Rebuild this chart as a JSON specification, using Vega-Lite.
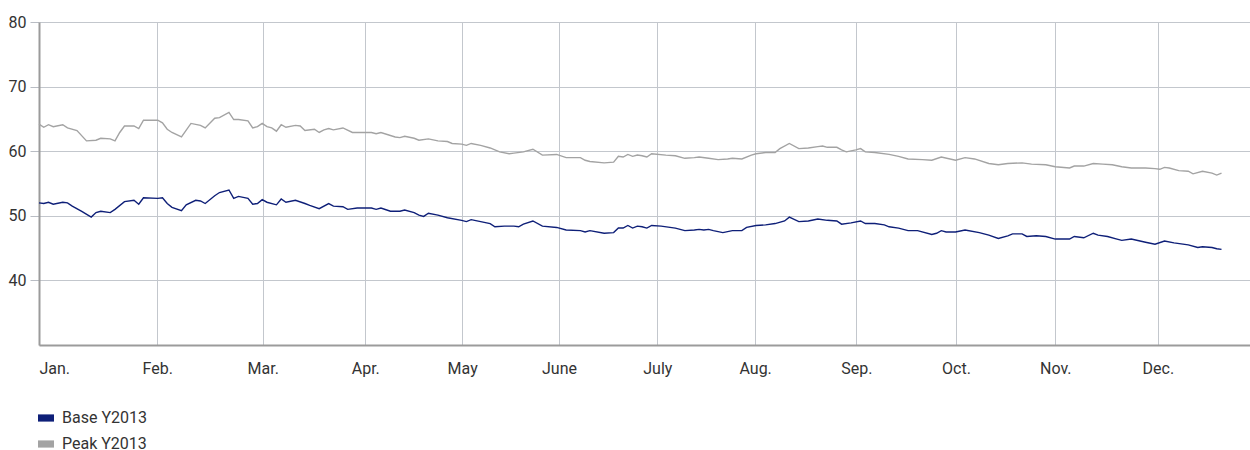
{
  "$schema": "https://vega.github.io/schema/vega-lite/v6.json",
  "width": 1211,
  "height": 323,
  "autosize": {"type": "none"},
  "padding": {"left": 39, "top": 22, "right": 0, "bottom": 105},
  "config": {
    "view": {"stroke": null},
    "font": "Roboto",
    "axis": {"labelFont": "Roboto", "labelFontSize": 16, "labelColor": "#333333", "gridColor": "#c3c7cd", "gridWidth": 1, "domainColor": "#9b9b9b", "domainWidth": 2, "title": null},
    "legend": {"labelFont": "Roboto", "labelFontSize": 16, "labelColor": "#333333"}
  },
  "data": {"values": [
    {"d":0,"s":"Peak Y2013","v":64.2},{"d":1,"s":"Peak Y2013","v":63.7},{"d":2,"s":"Peak Y2013","v":64.1},{"d":3,"s":"Peak Y2013","v":63.8},{"d":5,"s":"Peak Y2013","v":64.1},{"d":6,"s":"Peak Y2013","v":63.6},{"d":8,"s":"Peak Y2013","v":63.2},{"d":10,"s":"Peak Y2013","v":61.6},{"d":12,"s":"Peak Y2013","v":61.7},{"d":13,"s":"Peak Y2013","v":62.0},{"d":15,"s":"Peak Y2013","v":61.9},{"d":16,"s":"Peak Y2013","v":61.6},{"d":17,"s":"Peak Y2013","v":62.9},{"d":18,"s":"Peak Y2013","v":63.9},{"d":20,"s":"Peak Y2013","v":63.9},{"d":21,"s":"Peak Y2013","v":63.5},{"d":22,"s":"Peak Y2013","v":64.8},{"d":25,"s":"Peak Y2013","v":64.8},{"d":26,"s":"Peak Y2013","v":64.4},{"d":27,"s":"Peak Y2013","v":63.4},{"d":28,"s":"Peak Y2013","v":62.9},{"d":30,"s":"Peak Y2013","v":62.2},{"d":32,"s":"Peak Y2013","v":64.3},{"d":34,"s":"Peak Y2013","v":64.0},{"d":35,"s":"Peak Y2013","v":63.6},{"d":37,"s":"Peak Y2013","v":65.1},{"d":38,"s":"Peak Y2013","v":65.2},{"d":40,"s":"Peak Y2013","v":66.0},{"d":41,"s":"Peak Y2013","v":64.9},{"d":42,"s":"Peak Y2013","v":64.9},{"d":44,"s":"Peak Y2013","v":64.7},{"d":45,"s":"Peak Y2013","v":63.6},{"d":46,"s":"Peak Y2013","v":63.8},{"d":47,"s":"Peak Y2013","v":64.3},{"d":48,"s":"Peak Y2013","v":63.8},{"d":49,"s":"Peak Y2013","v":63.6},{"d":50,"s":"Peak Y2013","v":63.1},{"d":51,"s":"Peak Y2013","v":64.1},{"d":52,"s":"Peak Y2013","v":63.7},{"d":54,"s":"Peak Y2013","v":64.0},{"d":55,"s":"Peak Y2013","v":63.9},{"d":56,"s":"Peak Y2013","v":63.2},{"d":58,"s":"Peak Y2013","v":63.4},{"d":59,"s":"Peak Y2013","v":62.9},{"d":60,"s":"Peak Y2013","v":63.3},{"d":61,"s":"Peak Y2013","v":63.5},{"d":62,"s":"Peak Y2013","v":63.3},{"d":64,"s":"Peak Y2013","v":63.6},{"d":66,"s":"Peak Y2013","v":62.9},{"d":67,"s":"Peak Y2013","v":62.9},{"d":70,"s":"Peak Y2013","v":62.9},{"d":71,"s":"Peak Y2013","v":62.7},{"d":72,"s":"Peak Y2013","v":62.9},{"d":75,"s":"Peak Y2013","v":62.2},{"d":76,"s":"Peak Y2013","v":62.1},{"d":77,"s":"Peak Y2013","v":62.3},{"d":79,"s":"Peak Y2013","v":62.0},{"d":80,"s":"Peak Y2013","v":61.7},
    {"d":82,"s":"Peak Y2013","v":61.9},{"d":84,"s":"Peak Y2013","v":61.6},{"d":86,"s":"Peak Y2013","v":61.5},{"d":87,"s":"Peak Y2013","v":61.2},{"d":89,"s":"Peak Y2013","v":61.1},{"d":90,"s":"Peak Y2013","v":60.9},{"d":91,"s":"Peak Y2013","v":61.2},{"d":93,"s":"Peak Y2013","v":60.9},{"d":95,"s":"Peak Y2013","v":60.5},{"d":97,"s":"Peak Y2013","v":59.9},{"d":99,"s":"Peak Y2013","v":59.6},{"d":100,"s":"Peak Y2013","v":59.7},{"d":102,"s":"Peak Y2013","v":59.9},{"d":104,"s":"Peak Y2013","v":60.3},{"d":106,"s":"Peak Y2013","v":59.4},{"d":109,"s":"Peak Y2013","v":59.5},{"d":111,"s":"Peak Y2013","v":59.0},{"d":114,"s":"Peak Y2013","v":59.0},{"d":115,"s":"Peak Y2013","v":58.6},{"d":116,"s":"Peak Y2013","v":58.4},{"d":119,"s":"Peak Y2013","v":58.2},{"d":121,"s":"Peak Y2013","v":58.3},{"d":122,"s":"Peak Y2013","v":59.2},{"d":123,"s":"Peak Y2013","v":59.1},{"d":124,"s":"Peak Y2013","v":59.5},{"d":125,"s":"Peak Y2013","v":59.2},{"d":126,"s":"Peak Y2013","v":59.4},{"d":127,"s":"Peak Y2013","v":59.3},{"d":128,"s":"Peak Y2013","v":59.1},{"d":129,"s":"Peak Y2013","v":59.6},{"d":132,"s":"Peak Y2013","v":59.4},{"d":134,"s":"Peak Y2013","v":59.3},{"d":136,"s":"Peak Y2013","v":58.9},{"d":138,"s":"Peak Y2013","v":59.0},{"d":139,"s":"Peak Y2013","v":59.1},{"d":141,"s":"Peak Y2013","v":58.9},{"d":143,"s":"Peak Y2013","v":58.7},{"d":145,"s":"Peak Y2013","v":58.8},{"d":146,"s":"Peak Y2013","v":58.9},{"d":148,"s":"Peak Y2013","v":58.8},{"d":150,"s":"Peak Y2013","v":59.4},{"d":151,"s":"Peak Y2013","v":59.6},{"d":153,"s":"Peak Y2013","v":59.8},{"d":155,"s":"Peak Y2013","v":59.8},{"d":156,"s":"Peak Y2013","v":60.4},{"d":158,"s":"Peak Y2013","v":61.2},{"d":160,"s":"Peak Y2013","v":60.4},{"d":162,"s":"Peak Y2013","v":60.5},{"d":164,"s":"Peak Y2013","v":60.7},
    {"d":165,"s":"Peak Y2013","v":60.8},{"d":166,"s":"Peak Y2013","v":60.6},{"d":168,"s":"Peak Y2013","v":60.6},{"d":169,"s":"Peak Y2013","v":60.2},{"d":170,"s":"Peak Y2013","v":59.9},{"d":172,"s":"Peak Y2013","v":60.2},{"d":173,"s":"Peak Y2013","v":60.4},{"d":174,"s":"Peak Y2013","v":59.9},{"d":176,"s":"Peak Y2013","v":59.8},{"d":179,"s":"Peak Y2013","v":59.5},{"d":181,"s":"Peak Y2013","v":59.2},{"d":183,"s":"Peak Y2013","v":58.8},{"d":186,"s":"Peak Y2013","v":58.7},{"d":188,"s":"Peak Y2013","v":58.6},{"d":190,"s":"Peak Y2013","v":59.1},{"d":193,"s":"Peak Y2013","v":58.6},{"d":195,"s":"Peak Y2013","v":59.0},{"d":197,"s":"Peak Y2013","v":58.8},{"d":200,"s":"Peak Y2013","v":58.1},{"d":202,"s":"Peak Y2013","v":57.9},{"d":204,"s":"Peak Y2013","v":58.1},{"d":207,"s":"Peak Y2013","v":58.2},{"d":209,"s":"Peak Y2013","v":58.0},{"d":212,"s":"Peak Y2013","v":57.9},{"d":214,"s":"Peak Y2013","v":57.6},{"d":217,"s":"Peak Y2013","v":57.4},{"d":218,"s":"Peak Y2013","v":57.7},{"d":220,"s":"Peak Y2013","v":57.7},{"d":222,"s":"Peak Y2013","v":58.1},{"d":224,"s":"Peak Y2013","v":58.0},{"d":226,"s":"Peak Y2013","v":57.9},{"d":228,"s":"Peak Y2013","v":57.6},{"d":230,"s":"Peak Y2013","v":57.4},{"d":233,"s":"Peak Y2013","v":57.4},{"d":235,"s":"Peak Y2013","v":57.3},{"d":236,"s":"Peak Y2013","v":57.2},{"d":237,"s":"Peak Y2013","v":57.5},{"d":238,"s":"Peak Y2013","v":57.4},{"d":240,"s":"Peak Y2013","v":57.0},{"d":242,"s":"Peak Y2013","v":56.9},{"d":243,"s":"Peak Y2013","v":56.5},{"d":245,"s":"Peak Y2013","v":56.9},{"d":247,"s":"Peak Y2013","v":56.6},{"d":248,"s":"Peak Y2013","v":56.3},{"d":249,"s":"Peak Y2013","v":56.6},
    {"d":0,"s":"Base Y2013","v":52.0},{"d":1,"s":"Base Y2013","v":51.9},{"d":2,"s":"Base Y2013","v":52.1},{"d":3,"s":"Base Y2013","v":51.8},{"d":5,"s":"Base Y2013","v":52.1},{"d":6,"s":"Base Y2013","v":52.0},{"d":7,"s":"Base Y2013","v":51.5},{"d":9,"s":"Base Y2013","v":50.7},{"d":11,"s":"Base Y2013","v":49.8},{"d":12,"s":"Base Y2013","v":50.5},{"d":13,"s":"Base Y2013","v":50.7},{"d":15,"s":"Base Y2013","v":50.5},{"d":16,"s":"Base Y2013","v":51.0},{"d":18,"s":"Base Y2013","v":52.2},{"d":20,"s":"Base Y2013","v":52.4},{"d":21,"s":"Base Y2013","v":51.8},{"d":22,"s":"Base Y2013","v":52.8},{"d":25,"s":"Base Y2013","v":52.7},{"d":26,"s":"Base Y2013","v":52.8},{"d":27,"s":"Base Y2013","v":51.9},{"d":28,"s":"Base Y2013","v":51.3},{"d":30,"s":"Base Y2013","v":50.8},{"d":31,"s":"Base Y2013","v":51.7},{"d":33,"s":"Base Y2013","v":52.4},{"d":34,"s":"Base Y2013","v":52.3},{"d":35,"s":"Base Y2013","v":51.9},{"d":37,"s":"Base Y2013","v":53.1},{"d":38,"s":"Base Y2013","v":53.6},{"d":40,"s":"Base Y2013","v":54.0},{"d":41,"s":"Base Y2013","v":52.7},{"d":42,"s":"Base Y2013","v":53.0},{"d":44,"s":"Base Y2013","v":52.7},{"d":45,"s":"Base Y2013","v":51.8},{"d":46,"s":"Base Y2013","v":51.9},{"d":47,"s":"Base Y2013","v":52.5},{"d":48,"s":"Base Y2013","v":52.1},{"d":50,"s":"Base Y2013","v":51.7},{"d":51,"s":"Base Y2013","v":52.6},{"d":52,"s":"Base Y2013","v":52.1},{"d":54,"s":"Base Y2013","v":52.4},{"d":56,"s":"Base Y2013","v":51.9},{"d":57,"s":"Base Y2013","v":51.6},{"d":59,"s":"Base Y2013","v":51.1},{"d":61,"s":"Base Y2013","v":51.9},{"d":62,"s":"Base Y2013","v":51.5},{"d":64,"s":"Base Y2013","v":51.4},{"d":65,"s":"Base Y2013","v":51.0},{"d":67,"s":"Base Y2013","v":51.2},{"d":70,"s":"Base Y2013","v":51.2},{"d":71,"s":"Base Y2013","v":51.0},{"d":72,"s":"Base Y2013","v":51.2},{"d":74,"s":"Base Y2013","v":50.7},{"d":76,"s":"Base Y2013","v":50.7},{"d":77,"s":"Base Y2013","v":50.9},{"d":79,"s":"Base Y2013","v":50.5},{"d":80,"s":"Base Y2013","v":50.1},
    {"d":81,"s":"Base Y2013","v":49.9},{"d":82,"s":"Base Y2013","v":50.4},{"d":84,"s":"Base Y2013","v":50.1},{"d":86,"s":"Base Y2013","v":49.7},{"d":89,"s":"Base Y2013","v":49.3},{"d":90,"s":"Base Y2013","v":49.1},{"d":91,"s":"Base Y2013","v":49.4},{"d":93,"s":"Base Y2013","v":49.1},{"d":95,"s":"Base Y2013","v":48.8},{"d":96,"s":"Base Y2013","v":48.3},{"d":98,"s":"Base Y2013","v":48.4},{"d":100,"s":"Base Y2013","v":48.4},{"d":101,"s":"Base Y2013","v":48.3},{"d":102,"s":"Base Y2013","v":48.7},{"d":104,"s":"Base Y2013","v":49.2},{"d":106,"s":"Base Y2013","v":48.4},{"d":109,"s":"Base Y2013","v":48.2},{"d":111,"s":"Base Y2013","v":47.8},{"d":114,"s":"Base Y2013","v":47.7},{"d":115,"s":"Base Y2013","v":47.5},{"d":116,"s":"Base Y2013","v":47.7},{"d":119,"s":"Base Y2013","v":47.3},{"d":121,"s":"Base Y2013","v":47.4},{"d":122,"s":"Base Y2013","v":48.1},{"d":123,"s":"Base Y2013","v":48.1},{"d":124,"s":"Base Y2013","v":48.5},{"d":125,"s":"Base Y2013","v":48.1},{"d":126,"s":"Base Y2013","v":48.4},{"d":127,"s":"Base Y2013","v":48.3},{"d":128,"s":"Base Y2013","v":48.1},{"d":129,"s":"Base Y2013","v":48.5},{"d":131,"s":"Base Y2013","v":48.4},{"d":134,"s":"Base Y2013","v":48.1},{"d":136,"s":"Base Y2013","v":47.7},{"d":138,"s":"Base Y2013","v":47.8},{"d":139,"s":"Base Y2013","v":47.9},{"d":140,"s":"Base Y2013","v":47.8},{"d":141,"s":"Base Y2013","v":47.9},{"d":142,"s":"Base Y2013","v":47.7},{"d":144,"s":"Base Y2013","v":47.4},{"d":146,"s":"Base Y2013","v":47.7},{"d":148,"s":"Base Y2013","v":47.7},{"d":149,"s":"Base Y2013","v":48.2},{"d":151,"s":"Base Y2013","v":48.5},{"d":153,"s":"Base Y2013","v":48.6},{"d":155,"s":"Base Y2013","v":48.8},{"d":157,"s":"Base Y2013","v":49.2},{"d":158,"s":"Base Y2013","v":49.8},{"d":160,"s":"Base Y2013","v":49.1},{"d":162,"s":"Base Y2013","v":49.2},{"d":164,"s":"Base Y2013","v":49.5},
    {"d":166,"s":"Base Y2013","v":49.3},{"d":168,"s":"Base Y2013","v":49.2},{"d":169,"s":"Base Y2013","v":48.7},{"d":171,"s":"Base Y2013","v":48.9},{"d":173,"s":"Base Y2013","v":49.2},{"d":174,"s":"Base Y2013","v":48.8},{"d":176,"s":"Base Y2013","v":48.8},{"d":178,"s":"Base Y2013","v":48.6},{"d":179,"s":"Base Y2013","v":48.3},{"d":181,"s":"Base Y2013","v":48.1},{"d":183,"s":"Base Y2013","v":47.7},{"d":185,"s":"Base Y2013","v":47.7},{"d":188,"s":"Base Y2013","v":47.1},{"d":189,"s":"Base Y2013","v":47.3},{"d":190,"s":"Base Y2013","v":47.7},{"d":191,"s":"Base Y2013","v":47.5},{"d":193,"s":"Base Y2013","v":47.5},{"d":195,"s":"Base Y2013","v":47.8},{"d":198,"s":"Base Y2013","v":47.4},{"d":200,"s":"Base Y2013","v":47.0},{"d":202,"s":"Base Y2013","v":46.5},{"d":204,"s":"Base Y2013","v":46.9},{"d":205,"s":"Base Y2013","v":47.2},{"d":207,"s":"Base Y2013","v":47.2},{"d":208,"s":"Base Y2013","v":46.8},{"d":210,"s":"Base Y2013","v":46.9},{"d":212,"s":"Base Y2013","v":46.8},{"d":214,"s":"Base Y2013","v":46.4},{"d":217,"s":"Base Y2013","v":46.4},{"d":218,"s":"Base Y2013","v":46.8},{"d":220,"s":"Base Y2013","v":46.6},{"d":222,"s":"Base Y2013","v":47.3},{"d":223,"s":"Base Y2013","v":47.0},{"d":225,"s":"Base Y2013","v":46.8},{"d":227,"s":"Base Y2013","v":46.4},{"d":228,"s":"Base Y2013","v":46.2},{"d":230,"s":"Base Y2013","v":46.4},{"d":233,"s":"Base Y2013","v":45.9},{"d":235,"s":"Base Y2013","v":45.6},{"d":237,"s":"Base Y2013","v":46.1},{"d":239,"s":"Base Y2013","v":45.8},{"d":242,"s":"Base Y2013","v":45.5},{"d":244,"s":"Base Y2013","v":45.1},{"d":245,"s":"Base Y2013","v":45.2},{"d":247,"s":"Base Y2013","v":45.1},{"d":248,"s":"Base Y2013","v":44.9},{"d":249,"s":"Base Y2013","v":44.8}
  ]},
  "mark": {"type": "line", "strokeWidth": 1.4, "interpolate": "linear"},
  "encoding": {
    "x": {
      "field": "d", "type": "quantitative",
      "scale": {"domain": [0, 255], "nice": false, "zero": false},
      "axis": {
        "values": [0, 24.9, 47.1, 68.7, 89.1, 109.5, 130.2, 150.8, 172.1, 193.1, 214.0, 235.6],
        "labelExpr": "datum.value < 10 ? 'Jan.' : datum.value < 35 ? 'Feb.' : datum.value < 58 ? 'Mar.' : datum.value < 79 ? 'Apr.' : datum.value < 99 ? 'May' : datum.value < 120 ? 'June' : datum.value < 140 ? 'July' : datum.value < 160 ? 'Aug.' : datum.value < 182 ? 'Sep.' : datum.value < 203 ? 'Oct.' : datum.value < 224 ? 'Nov.' : 'Dec.'",
        "ticks": false, "tickSize": 0, "labelPadding": 15, "labelFlush": true, "labelOverlap": false, "grid": true
      }
    },
    "y": {
      "field": "v", "type": "quantitative",
      "scale": {"domain": [30, 80], "nice": false, "zero": false},
      "axis": {"values": [40, 50, 60, 70, 80], "tickSize": 9, "tickColor": "#b9bdc4", "labelPadding": 4, "grid": true, "labelBaseline": "middle"}
    },
    "color": {
      "field": "s", "type": "nominal",
      "scale": {"domain": ["Base Y2013", "Peak Y2013"], "range": ["#0e1f78", "#a3a3a3"]},
      "legend": {
        "title": null, "orient": "none", "legendX": -1, "legendY": 388, "direction": "vertical",
        "symbolType": "M-1,-0.45H1V0.45H-1Z", "symbolSize": 256, "symbolStrokeWidth": 0, "symbolOpacity": 1,
        "labelOffset": 8, "rowPadding": 10, "padding": 0,
        "encode": {"symbols": {"update": {"fill": {"scale": "color", "field": "value"}, "fillOpacity": {"value": 1}, "strokeWidth": {"value": 0}}}}
      }
    }
  }
}
